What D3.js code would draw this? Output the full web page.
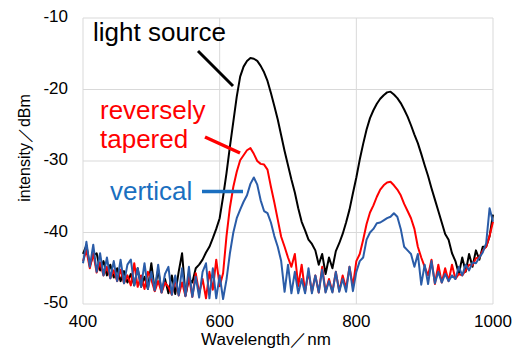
<!DOCTYPE html>
<html>
<head>
<meta charset="utf-8">
<script src="https://cdn.jsdelivr.net/npm/d3@7"></script>
<style>
  body { margin: 0; background: #fff; }
  text { font-family: "Liberation Sans", Arial, sans-serif; }
</style>
</head>
<body>
<svg id="chart" width="525" height="350"></svg>
<script>
// wavelength grid (nm), 5 nm step
const wavelengths = d3.range(400, 1001, 5);

// light source spectrum (dBm)
const lightSource = [
  -43.0, -41.8, -44.6, -43.2, -42.9, -45.3, -44.0, -46.0, -44.5, -46.3,
  -45.0, -46.8, -45.4, -47.0, -45.8, -47.4, -45.0, -47.6, -46.2, -47.9,
  -44.3, -48.1, -45.2, -48.3, -46.5, -48.5, -46.0, -48.6, -45.5, -42.9,
  -48.8, -46.5, -47.0, -45.0, -44.5, -43.8, -42.8, -42.0, -40.8, -39.5,
  -38.0, -35.0, -31.7, -28.0, -24.5, -21.0, -18.2, -16.8, -16.0, -15.6,
  -15.7, -16.0, -16.7, -17.6, -18.8, -20.5, -22.3, -24.2, -26.4, -28.6,
  -30.6, -32.6, -34.4, -36.6, -38.5, -39.7, -41.0, -41.6, -42.5, -44.5,
  -43.0, -45.8, -43.5, -45.0, -42.6, -41.5, -40.2, -38.6, -36.8, -34.5,
  -32.3, -29.8, -27.6, -25.6, -24.0, -22.9, -22.0, -21.3, -20.8, -20.4,
  -20.3, -20.7, -21.2, -21.9, -22.8, -23.8, -25.0, -26.3, -27.5, -29.0,
  -30.6, -32.1, -33.8, -35.4, -37.0, -38.6, -40.2, -41.0, -42.9, -44.0,
  -45.8, -43.5, -45.5, -43.0, -44.8, -42.5, -43.8, -42.0, -42.0, -40.5,
  -37.5
];

// reversely tapered coupling (dBm)
const reverselyTapered = [
  -44.0, -42.5, -45.0, -42.9, -45.6, -44.2, -46.0, -44.8, -46.4, -45.3,
  -46.8, -45.2, -47.1, -46.0, -47.4, -44.3, -47.6, -46.0, -47.9, -45.5,
  -46.6, -48.2, -46.8, -48.4, -47.0, -47.6, -48.7, -46.5, -48.8, -47.0,
  -48.9, -46.2, -49.0, -45.7, -48.5, -46.5, -49.2, -45.5, -48.0, -43.8,
  -47.5, -45.7, -40.5, -36.5, -33.6, -31.5, -29.9, -29.2, -28.5, -28.2,
  -29.0, -30.0, -30.4, -30.5, -31.2, -33.6, -35.8, -38.2, -40.6, -42.0,
  -43.5, -44.8, -43.0, -47.5, -44.5, -48.3, -45.5, -48.3, -46.0, -48.4,
  -44.8, -48.3, -46.5, -48.3, -45.5, -48.2, -46.0, -47.8, -44.8, -47.5,
  -44.0, -43.0, -41.0, -38.8, -37.2, -36.2, -35.0, -34.0, -33.4, -33.0,
  -32.9, -33.4, -34.0, -34.8, -36.0, -37.0, -38.0, -39.5, -42.0, -43.5,
  -44.8, -46.0, -43.8, -47.2, -44.5, -47.0, -45.0, -46.8, -44.5, -46.5,
  -45.8, -46.0, -45.3, -44.5, -44.6, -43.6, -43.5, -42.5, -42.0, -40.5,
  -38.5
];

// vertical coupling (dBm)
const vertical = [
  -44.3, -41.3, -44.8, -41.7, -45.5, -42.9, -46.0, -43.5, -46.4, -44.0,
  -46.8, -43.8, -47.1, -44.5, -43.8, -47.4, -45.0, -47.6, -44.3, -47.9,
  -45.5, -48.1, -44.5, -48.4, -45.8, -44.8, -48.7, -46.0, -48.8, -45.0,
  -48.9, -44.8, -49.0, -46.2, -49.1, -45.5, -44.3, -49.2, -45.0, -49.2,
  -46.0, -49.3, -46.6, -42.9, -40.0, -38.0, -36.8, -35.7, -34.8, -33.2,
  -32.3, -33.3, -35.5, -37.0, -37.3, -38.6, -40.5, -42.0, -44.0, -48.3,
  -44.5, -48.5, -45.5, -48.5, -46.5, -48.5, -45.0, -48.5, -46.0, -48.4,
  -45.2, -48.4, -46.8, -48.4, -45.5, -48.3, -46.5, -48.3, -44.8, -48.2,
  -45.5, -44.0, -43.5, -41.0, -40.0, -39.5, -38.7, -38.6, -38.3, -38.0,
  -37.8, -37.3, -37.8, -39.5, -42.0, -42.5, -43.0, -44.8, -43.0, -47.3,
  -44.5, -47.2, -44.0, -47.1, -45.5, -47.0, -45.8, -46.8, -46.0, -46.5,
  -44.8, -46.0, -44.5, -45.3, -44.2, -44.3, -43.5, -42.8, -41.5, -36.6,
  -38.5
];

const xTicks = [400, 600, 800, 1000];
const yTicks = [-50, -40, -30, -20, -10];

const svg = d3.select('#chart');
const m = {left: 83, right: 493, top: 18, bottom: 304};

const x = d3.scaleLinear().domain([400, 1000]).range([m.left, m.right]);
const y = d3.scaleLinear().domain([-50, -10]).range([m.bottom, m.top]);

// grid
svg.append('g')
  .selectAll('line')
  .data(xTicks)
  .join('line')
  .attr('x1', d => x(d)).attr('x2', d => x(d))
  .attr('y1', m.top).attr('y2', m.bottom)
  .attr('stroke', '#d9d9d9').attr('stroke-width', 1);

svg.append('g')
  .selectAll('line')
  .data(yTicks)
  .join('line')
  .attr('x1', m.left).attr('x2', m.right)
  .attr('y1', d => y(d)).attr('y2', d => y(d))
  .attr('stroke', '#d9d9d9').attr('stroke-width', 1);

// tick labels
svg.append('g')
  .selectAll('text')
  .data(yTicks)
  .join('text')
  .attr('x', 68).attr('y', d => y(d))
  .attr('text-anchor', 'end')
  .attr('dominant-baseline', 'middle')
  .attr('font-size', 17)
  .text(d => d);

svg.append('g')
  .selectAll('text')
  .data(xTicks)
  .join('text')
  .attr('x', d => x(d)).attr('y', 327)
  .attr('text-anchor', 'middle')
  .attr('font-size', 17)
  .text(d => d);

// axis titles
svg.append('text')
  .attr('x', 266).attr('y', 345)
  .attr('text-anchor', 'middle')
  .attr('font-size', 17)
  .text('Wavelength\uFF0Fnm');

svg.append('text')
  .attr('transform', 'translate(30,148) rotate(-90)')
  .attr('text-anchor', 'middle')
  .attr('font-size', 16)
  .text('intensity\uFF0FdBm');

// spectra
const line = d3.line()
  .x((d, i) => x(wavelengths[i]))
  .y(d => y(d));

const series = [
  {values: lightSource, color: '#000000'},
  {values: reverselyTapered, color: '#ff0000'},
  {values: vertical, color: '#2a5ca8'}
];

svg.append('g')
  .selectAll('path')
  .data(series)
  .join('path')
  .attr('d', d => line(d.values))
  .attr('fill', 'none')
  .attr('stroke', d => d.color)
  .attr('stroke-width', 2)
  .attr('stroke-linejoin', 'round');

// annotations
svg.append('text')
  .attr('x', 93).attr('y', 41)
  .attr('font-size', 26)
  .attr('fill', '#000')
  .text('light source');
svg.append('line')
  .attr('x1', 198).attr('y1', 51).attr('x2', 233).attr('y2', 86)
  .attr('stroke', '#000').attr('stroke-width', 3);

svg.append('text')
  .attr('x', 100).attr('y', 119)
  .attr('font-size', 26)
  .attr('fill', '#ff0000')
  .text('reversely');
svg.append('text')
  .attr('x', 100).attr('y', 148)
  .attr('font-size', 26)
  .attr('fill', '#ff0000')
  .text('tapered');
svg.append('line')
  .attr('x1', 205).attr('y1', 137).attr('x2', 240).attr('y2', 153)
  .attr('stroke', '#ff0000').attr('stroke-width', 3.5);

svg.append('text')
  .attr('x', 110).attr('y', 200)
  .attr('font-size', 26)
  .attr('fill', '#1a6fc0')
  .text('vertical');
svg.append('line')
  .attr('x1', 202).attr('y1', 191.5).attr('x2', 243).attr('y2', 191.5)
  .attr('stroke', '#1a6fc0').attr('stroke-width', 3.5);
</script>
</body>
</html>
